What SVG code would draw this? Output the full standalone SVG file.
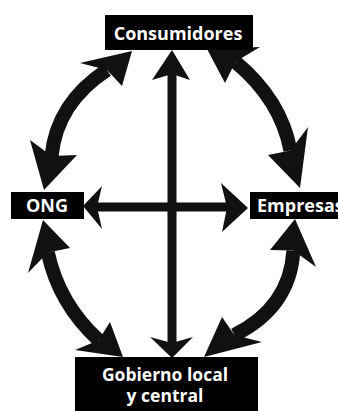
<svg xmlns="http://www.w3.org/2000/svg" width="338" height="411" viewBox="0 0 338 411">
<style>
.box{fill:#000}
.lbl{fill:#fff;font-family:"Open Sans","Noto Sans",sans-serif;font-weight:bold;font-size:18px}
.lbl2{font-size:17.5px}
.shaft{fill:none;stroke:#111;stroke-width:9}
.arc{fill:none;stroke:#111;stroke-width:14}
.head{fill:#111}
</style>
<rect width="338" height="411" fill="#fff"/>
<g id="connectors">
  <!-- vertical double arrow -->
  <line class="shaft" x1="172" y1="72" x2="172" y2="345"/>
  <polygon class="head" points="172,50 152,80 172,74 190,80"/>
  <polygon class="head" points="172,358 150,337 172,343 193,337"/>
  <!-- horizontal double arrow -->
  <line class="shaft" x1="95" y1="207" x2="229" y2="207"/>
  <polygon class="head" points="83,206 102,186 97,207 102,229"/>
  <polygon class="head" points="248,208 221,183 227,207.5 222,232"/>
  <!-- top-left arc -->
  <path class="arc" d="M107,70 Q56.7,103 51.6,156"/>
  <polygon class="head" points="132,51 80,63 107,70 122,86"/>
  <polygon class="head" points="44,190 30,140 51.6,156 77,155"/>
  <!-- top-right arc -->
  <path class="arc" d="M235.4,61.8 Q281.1,99.9 290.4,150.4"/>
  <polygon class="head" points="207,49 225,83 235.4,61.8 260,47"/>
  <polygon class="head" points="300,188 268,155 290.4,150.4 308,127"/>
  <!-- bottom-left arc -->
  <path class="arc" d="M47.8,252.4 Q58.8,303.7 98.6,340.2"/>
  <polygon class="head" points="43,220 28,273 47.8,252.4 70,248"/>
  <polygon class="head" points="123,357 75,350 98.6,340.2 110,322"/>
  <!-- bottom-right arc -->
  <path class="arc" d="M293.4,250.6 Q290.1,307.2 234.4,335"/>
  <polygon class="head" points="295,219 270,250 293.4,250.6 316,267"/>
  <polygon class="head" points="204,357 222,317 234.4,335 262,342"/>
</g>
<g id="consumidores">
  <rect class="box" x="105" y="15" width="148" height="35"/>
  <text class="lbl" x="178" y="40" text-anchor="middle">Consumidores</text>
</g>
<g id="ong">
  <rect class="box" x="11" y="192" width="73" height="27"/>
  <text class="lbl" x="47" y="212" text-anchor="middle">ONG</text>
</g>
<g id="empresas">
  <rect class="box" x="250" y="192" width="88" height="27"/>
  <text class="lbl" x="257" y="212">Empresas</text>
</g>
<g id="gobierno">
  <rect class="box" x="75" y="357" width="183" height="54"/>
  <text class="lbl lbl2" text-anchor="middle"><tspan x="165" y="381">Gobierno local</tspan><tspan x="165" y="402">y central</tspan></text>
</g>
</svg>
